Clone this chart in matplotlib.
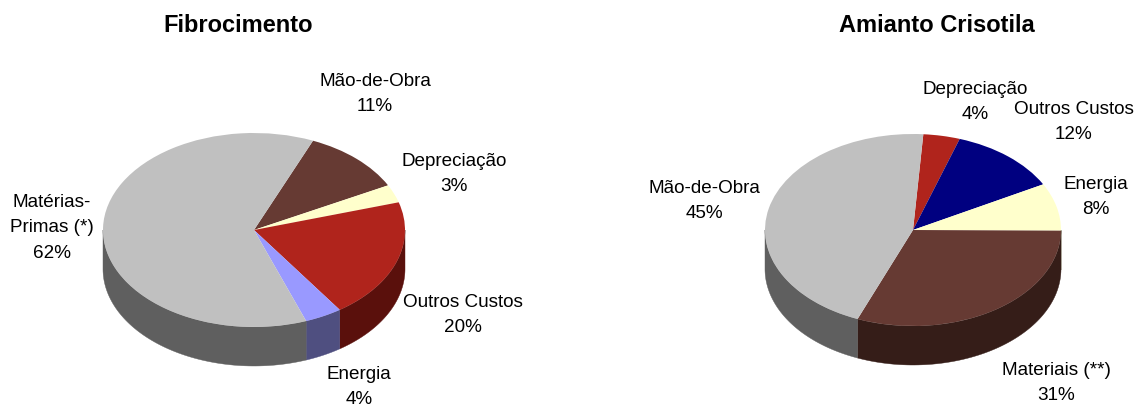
#!/usr/bin/env python3
"""Two pseudo-3D pies: cost structure of Fibrocimento and Amianto Crisotila."""

import numpy as np
import matplotlib
matplotlib.use("Agg")
import matplotlib.pyplot as plt

plt.rcParams['font.family'] = ['Liberation Sans', 'DejaVu Sans']

W, H = 1143, 409

# Data
fibro_names = ['Mão-de-Obra', 'Depreciação', 'Outros Custos', 'Energia', 'Matérias-\nPrimas (*)']
fibro_values = [11, 3, 20, 4, 62]
amianto_names = ['Depreciação', 'Outros Custos', 'Energia', 'Materiais (**)', 'Mão-de-Obra']
amianto_values = [4, 12, 8, 31, 45]

# Styles
fibro_top = ['#663A33', '#FFFFCC', '#B0241C', '#9999FF', '#C0C0C0']
fibro_side = ['#33190F', '#80805F', '#5A100C', '#4F4F80', '#5F5F5F']
amianto_top = ['#B0241C', '#000080', '#FFFFCC', '#663A33', '#C0C0C0']
amianto_side = ['#5A100C', '#000040', '#80805F', '#351D18', '#5F5F5F']

# Label centres in image pixels
fibro_label_xy = [(375, 94), (454, 174), (463, 315), (359, 387), (52, 228)]
amianto_label_xy = [(975, 102), (1074, 122), (1096, 197), (1056, 383), (704, 201)]


def draw_pie(fig, title, title_x, names, values, top, side, label_xy,
             cx, cy, rx, ry, depth, start):
    """Draw one squashed pie with a side wall, cx/cy/rx/ry in image pixels."""
    extra = depth + 3
    ax = fig.add_axes([(cx - rx - 3) / W, 1 - (cy + ry + extra) / H,
                       (2 * rx + 6) / W, (2 * ry + 3 + extra) / H])
    wedges, _ = ax.pie(values, colors=top, startangle=start, counterclock=False,
                       wedgeprops={'linewidth': 0})
    ax.set_aspect('auto')
    ax.set_xlim(-(rx + 3) / rx, (rx + 3) / rx)
    ax.set_ylim(-(ry + extra) / ry, (ry + 3) / ry)

    # Side wall: only the front half of the rim is visible
    d = depth / ry
    for wedge, color in zip(wedges, side):
        for shift in (-360, 0):
            t1 = max(wedge.theta1 + shift, -180)
            t2 = min(wedge.theta2 + shift, 0)
            if t2 <= t1:
                continue
            t = np.radians(np.linspace(t1, t2, 80))
            x = np.cos(t)
            y = np.sin(t)
            ax.fill(np.r_[x, x[::-1]], np.r_[y, y[::-1] - d],
                    color=color, lw=0.3, zorder=0.5)

    for name, value, (x, y) in zip(names, values, label_xy):
        fig.text(x / W, 1 - y / H, f'{name}\n{value}%', ha='center', va='center',
                 fontsize=13.6, color='black', linespacing=1.66, clip_on=False)
    fig.text(title_x / W, 1 - 25 / H, title, ha='center', va='center',
             fontsize=17, fontweight='bold')


def main():
    fig = plt.figure(figsize=(W / 100, H / 100), dpi=100, facecolor='white')
    draw_pie(fig, 'Fibrocimento', 238, fibro_names, fibro_values, fibro_top, fibro_side,
             fibro_label_xy, cx=254, cy=230, rx=151, ry=97, depth=39, start=67)
    draw_pie(fig, 'Amianto Crisotila', 937, amianto_names, amianto_values, amianto_top,
             amianto_side, amianto_label_xy, cx=913, cy=230, rx=148, ry=96, depth=39, start=86)
    fig.savefig('out.png', dpi=100)


if __name__ == "__main__":
    main()
